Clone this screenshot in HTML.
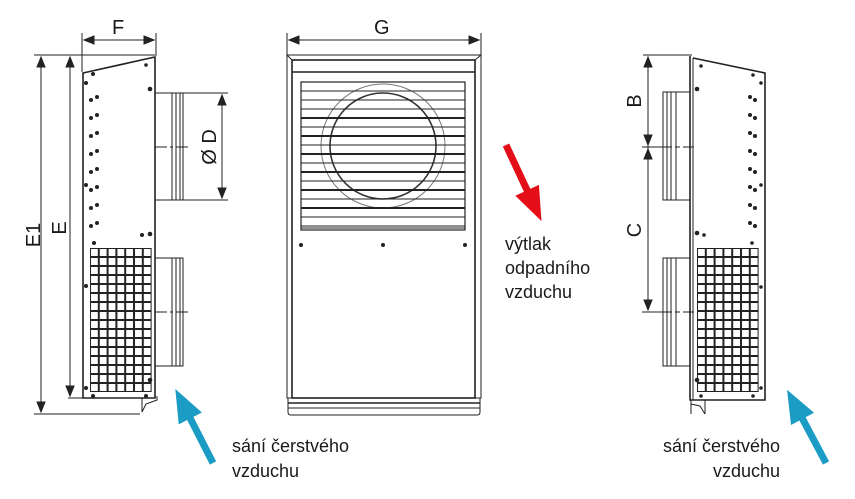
<!DOCTYPE html>
<html><head><meta charset="utf-8"><style>
html,body{margin:0;padding:0;background:#fff;}
svg{display:block;}
text{font-family:"Liberation Sans",Arial,sans-serif;fill:#1a1a1a;}
</style></head><body>
<svg width="855" height="499" viewBox="0 0 855 499" xmlns="http://www.w3.org/2000/svg">
<defs>
<pattern id="grid" x="90" y="248" width="8.8" height="9" patternUnits="userSpaceOnUse">
<rect x="0.5" y="0.5" width="7.8" height="8" fill="#fff" stroke="#222" stroke-width="1"/>
</pattern>
<pattern id="grid2" x="697" y="248" width="8.8" height="9" patternUnits="userSpaceOnUse">
<rect x="0.5" y="0.5" width="7.8" height="8" fill="#fff" stroke="#222" stroke-width="1"/>
</pattern>
<marker id="ah" markerWidth="10" markerHeight="8" refX="9" refY="4" orient="auto" markerUnits="userSpaceOnUse">
<path d="M0,0 L10,4 L0,8 Z" fill="#222"/>
</marker>
</defs>
<g stroke="#222" fill="none" stroke-width="1">
<!-- LEFT UNIT dims -->
<line x1="82" y1="33" x2="82" y2="72"/>
<line x1="156" y1="33" x2="156" y2="56"/>
<line x1="84" y1="40" x2="154" y2="40" marker-end="url(#ah)" marker-start="url(#ah)" style="marker-start:url(#ahs)"/>
<path d="M84,40 l10,-4 v8z M154,40 l-10,-4 v8z" fill="#222"/>
<line x1="34" y1="55" x2="155" y2="55"/>
<line x1="34" y1="414" x2="140" y2="414"/>
<line x1="41" y1="57" x2="41" y2="412"/>
<path d="M41,57 l-4,10 h8z M41,412 l-4,-10 h8z" fill="#222"/>
<line x1="68" y1="398" x2="84" y2="398"/>
<line x1="70" y1="57" x2="70" y2="396"/>
<path d="M70,57 l-4,10 h8z M70,396 l-4,-10 h8z" fill="#222"/>
<!-- body -->
<path d="M83,73 L155,57 L155,398 L83,398 Z" stroke-width="1.6"/>
<path d="M142,398 L142,412 L146,404 L157,400 L157,396" />
<rect x="90" y="248" width="61.6" height="144" fill="url(#grid)" stroke="none"/>
<!-- ducts -->
<path d="M155,93 H183 V200 H155"/>
<line x1="172" y1="93" x2="172" y2="200"/><line x1="176" y1="93" x2="176" y2="200"/><line x1="180" y1="93" x2="180" y2="200"/>
<line x1="155" y1="147" x2="190" y2="147" stroke-dasharray="12,3,3,3"/>
<path d="M155,258 H183 V366 H155"/>
<line x1="172" y1="258" x2="172" y2="366"/><line x1="176" y1="258" x2="176" y2="366"/><line x1="180" y1="258" x2="180" y2="366"/>
<line x1="155" y1="312" x2="190" y2="312" stroke-dasharray="12,3,3,3"/>
<line x1="183" y1="93" x2="228" y2="93"/><line x1="183" y1="200" x2="228" y2="200"/>
<line x1="222" y1="95" x2="222" y2="198"/>
<path d="M222,95 l-4,10 h8z M222,198 l-4,-10 h8z" fill="#222"/>

<!-- CENTER UNIT -->
<line x1="287" y1="33" x2="287" y2="56"/><line x1="481" y1="33" x2="481" y2="56"/>
<line x1="289" y1="40" x2="479" y2="40"/>
<path d="M289,40 l10,-4 v8z M479,40 l-10,-4 v8z" fill="#222"/>
<rect x="287" y="55" width="194" height="343" stroke-width="1"/>
<rect x="292" y="60" width="183" height="338" stroke-width="1.6"/>
<line x1="292" y1="72" x2="475" y2="72" stroke-width="1.6"/>
<line x1="287" y1="55" x2="292" y2="60"/><line x1="481" y1="55" x2="475" y2="60"/>
<path d="M288,398 V412 Q288,415 291,415 H477 Q480,415 480,412 V398"/>
<line x1="288" y1="403" x2="480" y2="403" stroke-width="1.4"/>
<line x1="288" y1="408" x2="480" y2="408"/>
<circle cx="383" cy="146" r="62" stroke="#777" stroke-width="1"/>
<circle cx="383" cy="146" r="53" stroke="#333" stroke-width="1.6"/>
<rect x="301" y="82" width="164" height="148" stroke-width="1.2"/>
<g stroke-width="1">
<line x1="301" y1="91" x2="465" y2="91"/><line x1="301" y1="100" x2="465" y2="100"/>
<line x1="301" y1="109" x2="465" y2="109"/><line x1="301" y1="127" x2="465" y2="127"/>
<line x1="301" y1="145" x2="465" y2="145"/><line x1="301" y1="163" x2="465" y2="163"/>
<line x1="301" y1="181" x2="465" y2="181"/><line x1="301" y1="199" x2="465" y2="199"/>
<line x1="301" y1="217" x2="465" y2="217"/><line x1="301" y1="226" x2="465" y2="226"/><line x1="301" y1="228" x2="465" y2="228"/>
</g>
<g stroke-width="2">
<line x1="301" y1="118" x2="465" y2="118"/><line x1="301" y1="136" x2="465" y2="136"/>
<line x1="301" y1="154" x2="465" y2="154"/><line x1="301" y1="172" x2="465" y2="172"/>
<line x1="301" y1="190" x2="465" y2="190"/><line x1="301" y1="208" x2="465" y2="208"/>
</g>

<!-- RIGHT UNIT -->
<path d="M690,56 L690,400 L765,400 L765,73 L693,58" stroke-width="1.6"/>
<line x1="693" y1="58" x2="693" y2="400"/>
<path d="M691,400 V414 M705,400 L705,414 M691,404 L700,406 L705,414"/>
<rect x="697" y="248" width="61.6" height="144" fill="url(#grid2)" stroke="none"/>
<path d="M690,92 H663 V200 H690"/>
<line x1="667" y1="92" x2="667" y2="200"/><line x1="671" y1="92" x2="671" y2="200"/><line x1="676" y1="92" x2="676" y2="200"/>
<path d="M690,258 H663 V366 H690"/>
<line x1="667" y1="258" x2="667" y2="366"/><line x1="671" y1="258" x2="671" y2="366"/><line x1="676" y1="258" x2="676" y2="366"/>
<line x1="643" y1="55" x2="692" y2="55"/>
<line x1="642" y1="147" x2="694" y2="147" stroke-dasharray="30,3,5,3"/>
<line x1="642" y1="312" x2="694" y2="312" stroke-dasharray="30,3,5,3"/>
<line x1="648" y1="57" x2="648" y2="310"/>
<path d="M648,57 l-4,10 h8z M648,145 l-4,-10 h8z M648,149 l-4,10 h8z M648,310 l-4,-10 h8z" fill="#222"/>
</g>

<!-- dots -->
<g fill="#222">
<circle cx="93" cy="74" r="2"/><circle cx="86" cy="83" r="2"/><circle cx="150" cy="89" r="2.3"/><circle cx="146" cy="65" r="1.8"/>
<circle cx="91" cy="100" r="2"/><circle cx="97" cy="97" r="2"/>
<circle cx="91" cy="118" r="2"/><circle cx="97" cy="115" r="2"/>
<circle cx="91" cy="136" r="2"/><circle cx="97" cy="133" r="2"/>
<circle cx="91" cy="154" r="2"/><circle cx="97" cy="151" r="2"/>
<circle cx="91" cy="172" r="2"/><circle cx="97" cy="169" r="2"/>
<circle cx="91" cy="190" r="2"/><circle cx="97" cy="187" r="2"/><circle cx="86" cy="185" r="2"/>
<circle cx="91" cy="208" r="2"/><circle cx="97" cy="205" r="2"/>
<circle cx="91" cy="226" r="2"/><circle cx="97" cy="223" r="2"/>
<circle cx="142" cy="235" r="2"/><circle cx="150" cy="234" r="2.3"/><circle cx="94" cy="243" r="2"/>
<circle cx="86" cy="286" r="2"/><circle cx="86" cy="388" r="2"/><circle cx="150" cy="380" r="2.3"/>
<circle cx="93" cy="396" r="2"/><circle cx="146" cy="396" r="2"/>
<circle cx="301" cy="245" r="2"/><circle cx="383" cy="245" r="2"/><circle cx="465" cy="245" r="2"/>
<circle cx="697" cy="89" r="2.3"/><circle cx="701" cy="66" r="1.8"/><circle cx="753" cy="75" r="1.8"/><circle cx="761" cy="83" r="1.8"/>
<circle cx="750" cy="97" r="2"/><circle cx="755" cy="100" r="2"/>
<circle cx="750" cy="115" r="2"/><circle cx="755" cy="118" r="2"/>
<circle cx="750" cy="133" r="2"/><circle cx="755" cy="136" r="2"/>
<circle cx="750" cy="151" r="2"/><circle cx="755" cy="154" r="2"/>
<circle cx="750" cy="169" r="2"/><circle cx="755" cy="172" r="2"/><circle cx="761" cy="185" r="1.8"/>
<circle cx="750" cy="187" r="2"/><circle cx="755" cy="190" r="2"/>
<circle cx="750" cy="205" r="2"/><circle cx="755" cy="208" r="2"/>
<circle cx="750" cy="223" r="2"/><circle cx="755" cy="226" r="2"/>
<circle cx="697" cy="233" r="2.3"/><circle cx="704" cy="235" r="1.8"/><circle cx="752" cy="243" r="1.8"/>
<circle cx="761" cy="287" r="1.8"/><circle cx="697" cy="380" r="2.3"/><circle cx="761" cy="388" r="1.8"/>
<circle cx="701" cy="396" r="1.8"/><circle cx="753" cy="396" r="1.8"/>
</g>

<!-- arrows -->
<g transform="translate(213,463) rotate(-27)" fill="#1a9cc4">
<rect x="-3.5" y="-55" width="7" height="55"/>
<polygon points="-13,-50 13,-50 0,-83"/>
</g>
<g transform="translate(826,463) rotate(-28)" fill="#1a9cc4">
<rect x="-3.5" y="-55" width="7" height="55"/>
<polygon points="-13,-50 13,-50 0,-83"/>
</g>
<g transform="translate(506,145) rotate(155)" fill="#e30e18">
<rect x="-3.5" y="-55" width="7" height="55"/>
<polygon points="-13,-50 13,-50 0,-84"/>
</g>

<!-- labels -->
<g font-size="20">
<text x="112" y="34">F</text>
<text x="374" y="34">G</text>
<text transform="translate(40,235) rotate(-90)" text-anchor="middle">E1</text>
<text transform="translate(66,228) rotate(-90)" text-anchor="middle">E</text>
<text transform="translate(216,147) rotate(-90)" text-anchor="middle">Ø D</text>
<text transform="translate(641,101) rotate(-90)" text-anchor="middle">B</text>
<text transform="translate(641,230) rotate(-90)" text-anchor="middle">C</text>
</g>
<g font-size="18">
<text x="505" y="250">výtlak</text>
<text x="505" y="274">odpadního</text>
<text x="505" y="298">vzduchu</text>
<text x="232" y="452">sání čerstvého</text>
<text x="232" y="477">vzduchu</text>
<text x="780" y="452" text-anchor="end">sání čerstvého</text>
<text x="780" y="477" text-anchor="end">vzduchu</text>
</g>
</svg>
</body></html>
